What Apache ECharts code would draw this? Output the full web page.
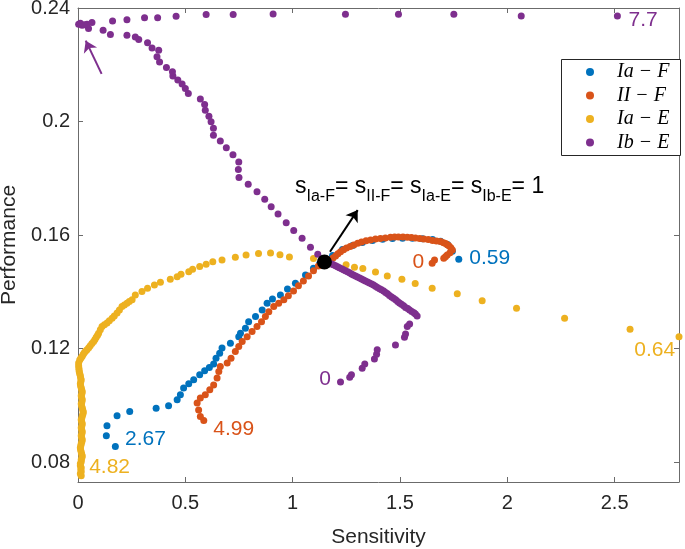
<!DOCTYPE html>
<html><head><meta charset="utf-8">
<script src="https://cdn.jsdelivr.net/npm/echarts@6/dist/echarts.min.js"></script>
<style>html,body{margin:0;padding:0;background:#fff}#c{width:685px;height:549px}</style>
</head><body><div id="c"></div><script>
// ---- data ----
const seriesNames = ['Ia \u2212 F', 'II \u2212 F', 'Ia \u2212 E', 'Ib \u2212 E'];
const xTicks = [0, 0.5, 1, 1.5, 2, 2.5];
const yTicks = [0.08, 0.12, 0.16, 0.2, 0.24];

const iaF = [[0.174,0.0855],[0.132,0.0893],[0.135,0.0928],[0.182,0.0963],[0.241,0.0978],[0.364,0.0990],[0.422,0.0999],[0.462,0.1020],[0.477,0.1037],[0.492,0.1061],[0.516,0.1076],[0.539,0.1090],[0.567,0.1108],[0.590,0.1122],[0.612,0.1133],[0.632,0.1146],[0.643,0.1166],[0.660,0.1184],[0.671,0.1202],[0.710,0.1219],[0.749,0.1242],[0.757,0.1254],[0.780,0.1272],[0.795,0.1295],[0.827,0.1313],[0.858,0.1336],[0.881,0.1360],[0.906,0.1375],[0.943,0.1389],[0.976,0.1410],[1.013,0.1430],[1.060,0.1459],[1.097,0.1483],[1.125,0.1498],
[1.186,0.1528],[1.232,0.1549],[1.279,0.1563],[1.325,0.1574],[1.372,0.1581],[1.419,0.1585],[1.465,0.1588],[1.512,0.1589],[1.558,0.1589],[1.605,0.1587],[1.652,0.1584],[1.689,0.1578],[1.722,0.1567],[1.744,0.1543],[1.774,0.1515]];

const iiF = [[0.586,0.0947],[0.570,0.0961],[0.562,0.0984],[0.555,0.1008],[0.570,0.1026],[0.593,0.1037],[0.614,0.1055],[0.632,0.1072],[0.648,0.1096],[0.656,0.1119],[0.663,0.1137],[0.695,0.1149],[0.713,0.1166],[0.733,0.1190],[0.749,0.1207],[0.765,0.1225],[0.788,0.1242],[0.811,0.1260],[0.834,0.1278],[0.855,0.1295],[0.873,0.1313],[0.889,0.1330],[0.912,0.1348],[0.935,0.1360],[0.959,0.1372],[0.980,0.1386],[1.004,0.1403],[1.027,0.1421],[1.050,0.1438],[1.074,0.1456],[1.097,0.1474],[1.120,0.1491],[1.134,0.1498],
[1.165,0.1507],[1.176,0.1512],[1.188,0.1519],[1.200,0.1526],[1.211,0.1534],[1.223,0.1541],[1.237,0.1548],[1.251,0.1554],[1.268,0.1560],[1.285,0.1565],[1.303,0.1571],[1.321,0.1576],[1.342,0.1580],[1.363,0.1583],[1.386,0.1586],[1.409,0.1588],[1.432,0.1590],[1.456,0.1592],[1.475,0.1593],[1.493,0.1593],[1.514,0.1593],[1.534,0.1592],[1.553,0.1591],[1.572,0.1590],[1.592,0.1588],[1.611,0.1586],[1.632,0.1584],[1.652,0.1581],[1.670,0.1579],[1.689,0.1577],[1.703,0.1573],[1.713,0.1570],[1.721,0.1566],[1.728,0.1562],[1.737,0.1555],[1.744,0.1547],[1.733,0.1538],[1.720,0.1530],[1.712,0.1524],[1.704,0.1518],[1.661,0.1512],[1.650,0.1501]];

const iaE = [[0.015,0.0752],[0.011,0.0759],[0.015,0.0766],[0.013,0.0773],[0.015,0.0780],[0.011,0.0787],[0.011,0.0794],[0.015,0.0801],[0.015,0.0808],[0.018,0.0815],[0.020,0.0822],[0.017,0.0829],[0.015,0.0836],[0.012,0.0844],[0.011,0.0851],[0.013,0.0858],[0.015,0.0865],[0.018,0.0872],[0.020,0.0879],[0.017,0.0886],[0.015,0.0893],[0.018,0.0900],[0.020,0.0907],[0.017,0.0914],[0.015,0.0921],[0.018,0.0928],[0.020,0.0935],[0.017,0.0942],[0.015,0.0949],[0.018,0.0956],[0.020,0.0963],[0.023,0.0970],[0.025,0.0977],[0.022,0.0984],[0.020,0.0991],[0.017,0.0998],[0.015,0.1005],[0.018,0.1012],[0.020,0.1020],[0.017,0.1027],[0.015,0.1034],[0.018,0.1041],[0.020,0.1048],[0.017,0.1055],[0.015,0.1062],[0.012,0.1069],[0.011,0.1076],[0.013,0.1083],[0.015,0.1090],[0.012,0.1097],[0.011,0.1104],[0.008,0.1111],[0.006,0.1118],[0.005,0.1125],[0.004,0.1132],[0.003,0.1140],[0.003,0.1149],[0.008,0.1160],[0.013,0.1166],[0.019,0.1172],[0.024,0.1179],[0.029,0.1185],[0.035,0.1191],[0.042,0.1196],[0.050,0.1203],[0.057,0.1210],[0.065,0.1218],[0.073,0.1225],[0.079,0.1232],[0.085,0.1240],[0.091,0.1247],[0.096,0.1254],[0.104,0.1266],[0.112,0.1278],[0.123,0.1284],[0.135,0.1290],[0.146,0.1298],[0.159,0.1307],[0.169,0.1315],[0.182,0.1325],[0.193,0.1336],[0.205,0.1348],[0.216,0.1354],[0.228,0.1360],[0.239,0.1366],[0.252,0.1372],[0.267,0.1389],[0.298,0.1401],[0.324,0.1413],[0.356,0.1424],[0.384,0.1434],[0.430,0.1444],[0.462,0.1453],[0.480,0.1462],[0.516,0.1471],[0.534,0.1480],[0.567,0.1489],[0.597,0.1497],[0.628,0.1506],[0.671,0.1512],[0.733,0.1522],[0.783,0.1530],[0.841,0.1535],[0.897,0.1537],[0.941,0.1531],[0.985,0.1523],[1.097,0.1517],
[1.249,0.1495],[1.288,0.1487],[1.327,0.1482],[1.386,0.1470],[1.441,0.1456],[1.509,0.1444],[1.571,0.1429],[1.650,0.1413],[1.767,0.1393],[1.883,0.1369],[2.043,0.1342],[2.267,0.1307],[2.572,0.1268],[2.800,0.1242]];

const ibE = [[1.223,0.1082],[1.266,0.1099],[1.274,0.1108],[1.324,0.1131],[1.336,0.1146],[1.381,0.1163],[1.391,0.1180],[1.394,0.1196],[1.479,0.1213],[1.521,0.1240],[1.526,0.1251],[1.534,0.1278],[1.545,0.1287],[1.580,0.1315],
[1.572,0.1322],[1.565,0.1326],[1.555,0.1331],[1.545,0.1336],[1.536,0.1341],[1.526,0.1345],[1.517,0.1351],[1.507,0.1356],[1.498,0.1361],[1.489,0.1366],[1.480,0.1372],[1.470,0.1377],[1.461,0.1382],[1.451,0.1387],[1.442,0.1393],[1.433,0.1398],[1.424,0.1403],[1.414,0.1407],[1.405,0.1411],[1.395,0.1415],[1.386,0.1420],[1.377,0.1424],[1.368,0.1428],[1.358,0.1431],[1.349,0.1435],[1.339,0.1438],[1.330,0.1442],[1.321,0.1445],[1.312,0.1449],[1.302,0.1452],[1.293,0.1456],[1.283,0.1459],[1.274,0.1463],[1.265,0.1467],[1.256,0.1471],[1.246,0.1474],[1.237,0.1478],[1.228,0.1481],[1.218,0.1485],[1.209,0.1488],[1.200,0.1492],[1.190,0.1495],[1.181,0.1498],[1.172,0.1500],[1.160,0.1503],
[1.117,0.1532],[1.083,0.1557],[1.044,0.1589],[1.005,0.1616],[0.970,0.1643],[0.932,0.1674],[0.900,0.1700],[0.870,0.1726],[0.834,0.1753],[0.793,0.1779],[0.750,0.1803],[0.747,0.1831],[0.749,0.1857],[0.722,0.1883],[0.691,0.1908],[0.663,0.1931],[0.631,0.1952],[0.631,0.1976],[0.620,0.1999],[0.610,0.2019],[0.593,0.2040],[0.590,0.2060],[0.570,0.2079],[0.514,0.2099],[0.500,0.2116],[0.485,0.2132],[0.465,0.2146],[0.442,0.2160],[0.440,0.2175],[0.412,0.2190],[0.380,0.2210],[0.368,0.2228],[0.376,0.2251],[0.345,0.2259],[0.324,0.2278],[0.283,0.2289],[0.267,0.2298],[0.228,0.2304],[0.151,0.2307],[0.117,0.2322],[0.049,0.2328],[0.042,0.2343],[0.019,0.2339],[0.003,0.2343],[0.011,0.2346],[0.029,0.2341],[0.065,0.2349],
[0.161,0.2354],[0.228,0.2359],[0.310,0.2366],[0.371,0.2366],[0.457,0.2371],[0.597,0.2377],[0.723,0.2377],[0.909,0.2379],[1.246,0.2378],[1.493,0.2378],[1.751,0.2378],[2.065,0.2372],[2.513,0.2372]];

const nominal = [[1.148, 0.1505]];
const blackArrow = [[1.174, 0.1541], [1.303, 0.1688]];
const purpleArrow = [[0.110, 0.2168], [0.036, 0.2285]];

// endpoint labels: [text, x, y] in data units (left / middle anchor)
const endLabels = [
  ['7.7', 2.565, 0.2356, '#7E2F8E'],
  ['0.59', 1.823, 0.1518, '#0072BD'],
  ['0', 1.558, 0.1503, '#D95319'],
  ['0.64', 2.592, 0.1194, '#EDB120'],
  ['0', 1.124, 0.1092, '#7E2F8E'],
  ['2.67', 0.219, 0.0882, '#0072BD'],
  ['4.99', 0.630, 0.0915, '#D95319'],
  ['4.82', 0.052, 0.0782, '#EDB120']
];

const colors = ['#0072BD', '#D95319', '#EDB120', '#7E2F8E'];
const FONT = "'Liberation Sans', Arial, Helvetica, sans-serif";
const AX = '#6b6b6b';
const TXT = '#262626';

const chart = echarts.init(document.getElementById('c'), null, {renderer: 'canvas'});

function axisBase(extra) {
  return Object.assign({
    type: 'value',
    axisLine: {show: true, onZero: false, lineStyle: {color: AX, width: 1}},
    splitLine: {show: false},
  }, extra);
}

const yFmt = v => String(+(+v).toFixed(2));

const option = {
  animation: false,
  backgroundColor: '#fff',
  grid: {left: 78, right: 6, top: 8, bottom: 67, containLabel: false, outerBoundsMode: 'none'},
  xAxis: [
    axisBase({
      min: 0, max: 2.8, position: 'bottom',
      axisTick: {show: true, inside: true, length: 5, customValues: xTicks, lineStyle: {color: AX}},
      axisLabel: {show: true, customValues: xTicks, fontSize: 20, fontFamily: FONT, color: TXT, margin: 11,
        formatter: v => String(+(+v).toFixed(2))},
      name: 'Sensitivity', nameLocation: 'middle', nameGap: 45,
      nameTextStyle: {fontSize: 21, fontFamily: FONT, color: TXT}
    }),
    axisBase({
      min: 0, max: 2.8, position: 'top',
      axisTick: {show: true, inside: true, length: 5, customValues: xTicks, lineStyle: {color: AX}},
      axisLabel: {show: false}
    })
  ],
  yAxis: [
    axisBase({
      min: 0.073, max: 0.24, position: 'left',
      axisTick: {show: true, inside: true, length: 5, customValues: yTicks, lineStyle: {color: AX}},
      axisLabel: {show: true, customValues: yTicks, fontSize: 20, fontFamily: FONT, color: TXT, margin: 8, formatter: yFmt},
      name: 'Performance', nameLocation: 'middle', nameGap: 49,
      nameTextStyle: {fontSize: 21, fontFamily: FONT, color: TXT}
    }),
    axisBase({
      min: 0.073, max: 0.24, position: 'right',
      axisTick: {show: true, inside: true, length: 5, customValues: yTicks, lineStyle: {color: AX}},
      axisLabel: {show: false}
    })
  ],
  legend: {
    orient: 'vertical', left: 586, top: 62,
    padding: 0, itemWidth: 44, itemHeight: 8, itemGap: 3.5,
    icon: 'circle',
    data: seriesNames,
    textStyle: {fontFamily: "'Liberation Serif', 'Times New Roman', serif", fontStyle: 'italic', fontSize: 20, lineHeight: 20, color: '#000', padding: [0,0,0,0]},
    selectedMode: false
  },
  series: [
    {name: seriesNames[0], type: 'scatter', data: iaF, symbol: 'circle', symbolSize: 7, itemStyle: {color: colors[0], opacity: 1}, z: 2},
    {name: seriesNames[1], type: 'scatter', data: iiF, symbol: 'circle', symbolSize: 7, itemStyle: {color: colors[1], opacity: 1}, z: 2},
    {name: seriesNames[2], type: 'scatter', data: iaE, symbol: 'circle', symbolSize: 7, itemStyle: {color: colors[2], opacity: 1}, z: 2},
    {name: seriesNames[3], type: 'scatter', data: ibE, symbol: 'circle', symbolSize: 7, itemStyle: {color: colors[3], opacity: 1}, z: 2,
      markLine: {silent: true, animation: false, symbol: ['none', 'arrow'], symbolSize: 11,
        label: {show: false}, lineStyle: {color: colors[3], width: 2, type: 'solid'},
        data: [[{coord: purpleArrow[0]}, {coord: purpleArrow[1]}]]}},
    {name: 'nominal', type: 'scatter', data: nominal, symbol: 'circle', symbolSize: 15, itemStyle: {color: '#000', opacity: 1}, z: 3,
      markLine: {silent: true, animation: false, symbol: ['none', 'arrow'], symbolSize: 11,
        label: {show: false}, lineStyle: {color: '#000', width: 2, type: 'solid'},
        data: [[{coord: blackArrow[0]}, {coord: blackArrow[1]}]]}}
  ]
};
chart.setOption(option);

// legend box + annotations
const graphics = [
  {type: 'rect', shape: {x: 561.5, y: 59.5, width: 119, height: 96}, style: {fill: '#fff', stroke: '#262626', lineWidth: 1}, z: 3, silent: true}
];
endLabels.forEach(l => {
  const p = chart.convertToPixel({gridIndex: 0}, [l[1], l[2]]);
  graphics.push({type: 'text', x: p[0], y: p[1], z: 10, silent: true,
    style: {text: l[0], fill: l[3], font: '21px ' + FONT, align: 'left', verticalAlign: 'middle'}});
});
graphics.push({
  type: 'text', x: 295, y: 175, z: 10, silent: true,
  style: {
    text: '{s|s}{b|Ia-F}{s|= s}{b|II-F}{s|= s}{b|Ia-E}{s|= s}{b|Ib-E}{s|= 1}',
    align: 'left', verticalAlign: 'top',
    rich: {
      s: {fontSize: 23, fontFamily: FONT, fill: '#000', lineHeight: 27, verticalAlign: 'top'},
      b: {fontSize: 16, fontFamily: FONT, fill: '#000', lineHeight: 16, padding: [14, 0, 0, 0], verticalAlign: 'top'}
    }
  }
});
chart.setOption({graphic: graphics});
</script></body></html>
